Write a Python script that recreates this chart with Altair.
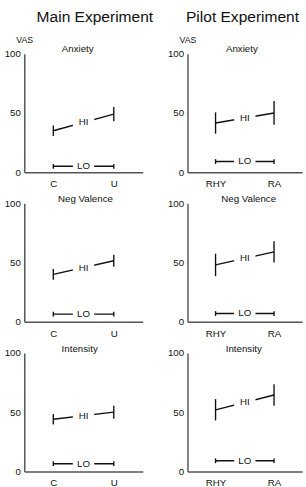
import altair as alt
import pandas as pd

# ---- data -------------------------------------------------------------
MAIN_CONDITIONS = ["C", "U"]
PILOT_CONDITIONS = ["RHY", "RA"]
MEASURES = ["Anxiety", "Neg Valence", "Intensity"]
GROUPS = ["HI", "LO"]

# mean VAS rating per measure, [first condition, second condition]
MAIN_HI_MEAN = [[35, 49], [40, 51.5], [44, 50]]
MAIN_HI_ERR = [[4.5, 6], [4.5, 5], [4.5, 5.5]]
MAIN_LO_MEAN = [[5, 5], [6.5, 6.5], [6.5, 6.5]]
MAIN_LO_ERR = [[2, 2], [2, 2], [2, 2]]

PILOT_HI_MEAN = [[41.5, 50], [48, 59], [52, 64.5]]
PILOT_HI_ERR = [[9, 10], [9.5, 9], [9, 9]]
PILOT_LO_MEAN = [[9, 9], [7, 7], [9, 9]]
PILOT_LO_ERR = [[2, 2], [2, 2], [2, 2]]

FONT = "Liberation Sans"
INK = "#111111"
AXIS_INK = "#555555"
# slim rectangle used to open a gap in each line behind its label
GAP_SHAPE = "M-1,-0.4H1V0.4H-1Z"


def make_panel(conds, hi, hi_err, lo, lo_err, title, title_dx, show_vas, width):
    rows = []
    for g, means, errs in (("HI", hi, hi_err), ("LO", lo, lo_err)):
        for i, c in enumerate(conds):
            rows.append({"group": g, "pos": i, "cond": c, "mean": means[i],
                         "lo": means[i] - errs[i], "hi": means[i] + errs[i]})
    df = pd.DataFrame(rows)

    label_expr = f"datum.value == 0 ? '{conds[0]}' : '{conds[1]}'"
    x = alt.X("pos:Q",
              scale=alt.Scale(domain=[-0.48, 1.48], nice=False, zero=False),
              axis=alt.Axis(values=[0, 1], labelExpr=label_expr, ticks=False,
                            grid=False, title=None, labelPadding=7,
                            labelFontSize=10, labelFont=FONT, labelColor=INK,
                            domainColor=AXIS_INK, domainWidth=1.5))
    axis_args = dict(values=[0, 50, 100], ticks=False, grid=False,
                     labelPadding=4, labelFontSize=10, labelFont=FONT,
                     labelColor=INK, domainColor=AXIS_INK, domainWidth=1.5)
    if show_vas:
        yaxis = alt.Axis(title="VAS", titleAngle=0, titleX=0, titleY=-15,
                         titleAlign="center", titleBaseline="middle",
                         titleFont=FONT, titleFontSize=9,
                         titleFontWeight="normal", titleColor=INK, **axis_args)
    else:
        yaxis = alt.Axis(title=None, **axis_args)
    y = alt.Y("mean:Q", scale=alt.Scale(domain=[0, 100], nice=False),
              axis=yaxis)

    base = alt.Chart(df)
    line = base.mark_line(color=INK, strokeWidth=1.4).encode(
        x=x, y=y, detail="group:N")
    bars = base.mark_rule(color=INK, strokeWidth=1.4).encode(
        x="pos:Q", y="lo:Q", y2="hi:Q")
    mid = base.transform_aggregate(
        mx="mean(pos)", my="mean(mean)", groupby=["group"])
    gap = mid.mark_point(shape=GAP_SHAPE, size=480, filled=True,
                         fill="white", opacity=1, strokeWidth=0).encode(
        x="mx:Q", y="my:Q")
    text = mid.mark_text(font=FONT, fontSize=10, color=INK,
                         align="center", baseline="middle").encode(
        x="mx:Q", y="my:Q", text="group:N")

    return alt.layer(line, gap, bars, text).properties(
        width=width, height=122,
        title=alt.TitleParams(title, font=FONT, fontSize=10,
                              fontWeight="normal", color=INK,
                              anchor="middle", frame="group", dx=title_dx,
                              offset=-19 if show_vas else -6))


def make_column(conds, hi, hi_err, lo, lo_err, dxs, width, heading, heading_dx):
    panels = [make_panel(conds, hi[k], hi_err[k], lo[k], lo_err[k],
                         MEASURES[k], dxs[k], k == 0, width)
              for k in range(3)]
    # flush bounds: spacing is measured between plot areas
    return alt.vconcat(*panels, spacing=32, bounds="flush").properties(
        title=alt.TitleParams(heading, font=FONT, fontSize=16,
                              fontWeight="normal", color=INK,
                              anchor="middle", dx=heading_dx, offset=11))


main_col = make_column(MAIN_CONDITIONS, MAIN_HI_MEAN, MAIN_HI_ERR,
                       MAIN_LO_MEAN, MAIN_LO_ERR, [-6, 2, -4], 122,
                       "Main Experiment", 22)
pilot_col = make_column(PILOT_CONDITIONS, PILOT_HI_MEAN, PILOT_HI_ERR,
                        PILOT_LO_MEAN, PILOT_LO_ERR, [-3, 4, -1], 118,
                        "Pilot Experiment", 8)

chart = alt.hconcat(main_col, pilot_col, spacing=14).properties(
    padding={"left": 4, "top": 2, "right": 4, "bottom": 0},
    background="white",
).configure_view(stroke=None)

chart.save("out.html", embed_options={"renderer": "svg", "actions": False})
